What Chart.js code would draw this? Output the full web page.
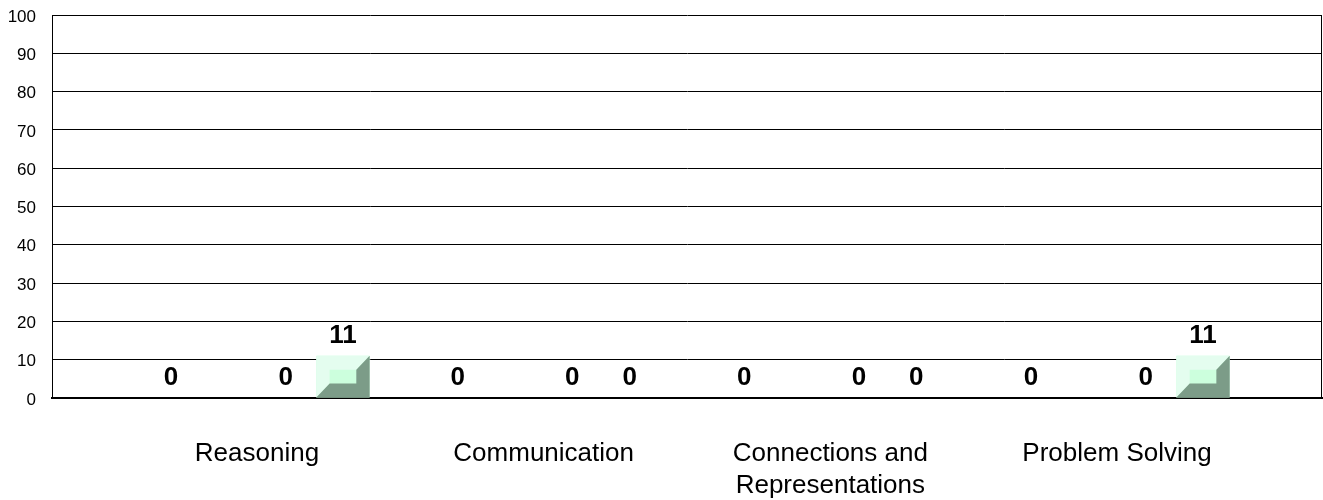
<!DOCTYPE html>
<html>
<head>
<meta charset="utf-8">
<script src="https://cdn.jsdelivr.net/npm/chart.js@4/dist/chart.umd.min.js"></script>
<style>
html, body { margin: 0; padding: 0; background: #fff; }
#wrap { width: 1323px; height: 500px; position: relative; }
</style>
</head>
<body>
<div id="wrap"><canvas id="myChart"></canvas></div>
<script>
const categories = ['Reasoning', 'Communication', ['Connections and', 'Representations'], 'Problem Solving'];
const series1 = [0, 0, 0, 0];
const series2 = [null, null, null, null];
const series3 = [0, 0, 0, 0];
const series4 = [11, 0, 0, 11];
const yTicks = [0, 10, 20, 30, 40, 50, 60, 70, 80, 90, 100];

const FONT = 'Arial, "Liberation Sans", sans-serif';
const FACE = '#ccffdd';
const LIGHT = '#e4fdef';
const DARK = '#7c9c88';

function points(arr) {
    return arr.map((v, i) => ({ x: i, y: v }));
}

// 3d-ish bevel on the bars, Excel style
const bevelPlugin = {
    id: 'bevel',
    afterDatasetsDraw(chart) {
        const ctx = chart.ctx;
        chart.data.datasets.forEach((ds, di) => {
            const meta = chart.getDatasetMeta(di);
            meta.data.forEach((bar) => {
                const h = bar.base - bar.y;
                if (h < 2) return;
                const l = bar.x - bar.width / 2, r = bar.x + bar.width / 2;
                const t = bar.y, b = bar.base;
                const dx = Math.min(14, bar.width / 4);
                const dy = Math.min(14, h / 3);
                ctx.save();
                ctx.fillStyle = LIGHT;
                ctx.beginPath();
                ctx.moveTo(l, t); ctx.lineTo(r, t); ctx.lineTo(r - dx, t + dy);
                ctx.lineTo(l + dx, t + dy); ctx.lineTo(l + dx, b - dy); ctx.lineTo(l, b);
                ctx.closePath(); ctx.fill();
                ctx.fillStyle = DARK;
                ctx.beginPath();
                ctx.moveTo(r, t); ctx.lineTo(r, b); ctx.lineTo(l, b);
                ctx.lineTo(l + dx, b - dy); ctx.lineTo(r - dx, b - dy); ctx.lineTo(r - dx, t + dy);
                ctx.closePath(); ctx.fill();
                ctx.restore();
            });
        });
    }
};

const labelPlugin = {
    id: 'valueLabels',
    afterDraw(chart) {
        const ctx = chart.ctx;
        ctx.save();
        ctx.font = 'bold 26px ' + FONT;
        ctx.fillStyle = '#000';
        ctx.textAlign = 'center';
        ctx.textBaseline = 'middle';
        chart.data.datasets.forEach((ds, di) => {
            const meta = chart.getDatasetMeta(di);
            meta.data.forEach((bar, i) => {
                const v = ds.data[i].y;
                if (v === null) return;
                ctx.fillText(String(v), bar.x, bar.y - 20);
            });
        });
        // right edge of the frame
        const a = chart.chartArea;
        ctx.strokeStyle = '#000';
        ctx.lineWidth = 1;
        ctx.beginPath();
        ctx.moveTo(a.right - 0.5, a.top);
        ctx.lineTo(a.right - 0.5, a.bottom);
        ctx.stroke();
        ctx.restore();
    }
};

const ctx1 = document.getElementById('myChart').getContext('2d');

var graphData = {
    type: 'bar',
    data: {
        datasets: [series1, series2, series3, series4].map((s, i) => ({
            label: 'Series ' + (i + 1),
            data: points(s),
            backgroundColor: FACE,
            borderWidth: 0,
            categoryPercentage: 0.8,
            barPercentage: 0.93
        }))
    },
    options: {
        responsive: true,
        maintainAspectRatio: false,
        animation: false,
        layout: { padding: { top: 15, right: 1, left: 0, bottom: 0 } },
        plugins: { legend: { display: false }, tooltip: { enabled: false } },
        scales: {
            x: {
                type: 'linear',
                offset: false,
                min: -0.715,
                max: 3.715,
                afterBuildTicks(scale) {
                    scale.ticks = categories.map((c, i) => ({ value: i }));
                },
                afterFit(scale) {
                    scale.height = 102;
                    scale.paddingLeft = 0;
                    scale.paddingRight = 0;
                },
                ticks: {
                    autoSkip: false,
                    maxRotation: 0,
                    padding: 40,
                    color: '#000',
                    font: { family: FONT, size: 26, lineHeight: 1.23 },
                    callback: (v) => categories[v]
                },
                grid: { display: false, drawTicks: false },
                border: { display: true, color: '#000', width: 2 }
            },
            y: {
                min: 0,
                max: 100,
                afterBuildTicks(scale) {
                    scale.ticks = yTicks.map((v) => ({ value: v }));
                },
                afterFit(scale) {
                    scale.width = 52;
                    scale.paddingTop = 0;
                    scale.paddingBottom = 0;
                },
                ticks: {
                    padding: 16,
                    labelOffset: 2,
                    color: '#000',
                    font: { family: FONT, size: 17 }
                },
                grid: { color: '#000', lineWidth: 1, drawTicks: false },
                border: { display: true, color: '#000', width: 1 }
            }
        }
    },
    plugins: [bevelPlugin, labelPlugin]
};

var myChart = new Chart(ctx1, graphData);
</script>
</body>
</html>
